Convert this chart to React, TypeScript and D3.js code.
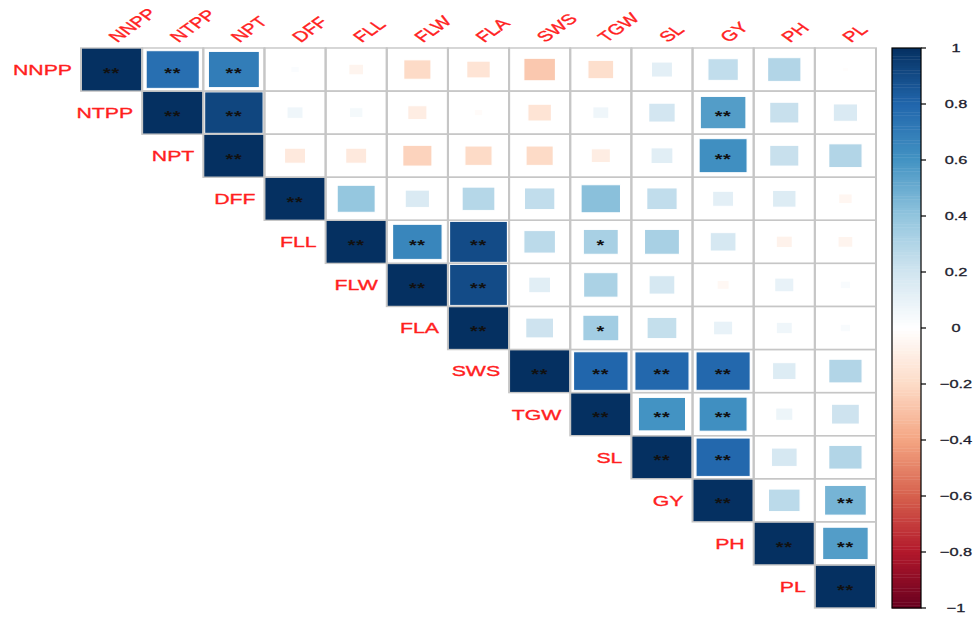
import React from "react";
import * as d3 from "d3";

const variables = ["NNPP", "NTPP", "NPT", "DFF", "FLL", "FLW", "FLA", "SWS", "TGW", "SL", "GY", "PH", "PL"];

// upper-triangle correlations, each row starts at the diagonal
const rowNNPP = [1, 0.76, 0.7, 0.02, -0.06, -0.2, -0.15, -0.27, -0.18, 0.12, 0.25, 0.3, -0.01];
const rowNTPP = [1, 0.92, 0.07, 0.05, -0.1, -0.02, -0.15, 0.07, 0.19, 0.56, 0.23, 0.16];
const rowNPT = [1, -0.12, -0.12, -0.23, -0.2, -0.2, -0.1, 0.13, 0.62, 0.23, 0.3];
const rowDFF = [1, 0.39, 0.16, 0.29, 0.25, 0.42, 0.25, 0.12, 0.15, -0.05];
const rowFLL = [1, 0.66, 0.9, 0.27, 0.33, 0.33, 0.18, -0.07, -0.06];
const rowFLW = [1, 0.9, 0.13, 0.32, 0.18, -0.04, 0.1, 0.03];
const rowFLA = [1, 0.21, 0.35, 0.24, 0.1, 0.07, 0.03];
const rowSWS = [1, 0.8, 0.79, 0.79, 0.15, 0.3];
const rowTGW = [1, 0.6, 0.62, 0.08, 0.21];
const rowSL = [1, 0.79, 0.18, 0.3];
const rowGY = [1, 0.27, 0.47];
const rowPH = [1, 0.56];
const rowPL = [1];
const corrRows = [rowNNPP, rowNTPP, rowNPT, rowDFF, rowFLL, rowFLW, rowFLA, rowSWS, rowTGW, rowSL, rowGY, rowPH, rowPL];

// significance marks off the diagonal (diagonal is always "**")
const sigPairs: [string, string, string][] = [
  ["NNPP", "NTPP", "**"], ["NNPP", "NPT", "**"], ["NTPP", "NPT", "**"],
  ["NTPP", "GY", "**"], ["NPT", "GY", "**"],
  ["FLL", "FLW", "**"], ["FLL", "FLA", "**"], ["FLW", "FLA", "**"],
  ["FLL", "TGW", "*"], ["FLA", "TGW", "*"],
  ["SWS", "TGW", "**"], ["SWS", "SL", "**"], ["SWS", "GY", "**"],
  ["TGW", "SL", "**"], ["TGW", "GY", "**"], ["SL", "GY", "**"],
  ["GY", "PL", "**"], ["PH", "PL", "**"],
];

const legendTicks = [1, 0.8, 0.6, 0.4, 0.2, 0, -0.2, -0.4, -0.6, -0.8, -1];
const rdbu = ["#67001F", "#B2182B", "#D6604D", "#F4A582", "#FDDBC7", "#FFFFFF", "#D1E5F0", "#92C5DE", "#4393C3", "#2166AC", "#053061"];

const FONT = "'Liberation Sans', Arial, Helvetica, sans-serif";

export default function App() {
  const W = 974, H = 618;
  const X0 = 81, X1 = 876, Y0 = 48, Y1 = 608;
  const sx = (X1 - X0) / (Y1 - Y0);

  const x = d3.scaleBand().domain(variables).range([X0 / sx, X1 / sx]);
  const y = d3.scaleBand().domain(variables).range([Y0, Y1]);
  const bw = x.bandwidth(), bh = y.bandwidth();

  const color = d3.scaleLinear<string>()
    .domain(d3.range(11).map((i) => -1 + i * 0.2))
    .range(rdbu)
    .interpolate(d3.interpolateRgb);

  const sigMap = new Map<string, string>();
  sigPairs.forEach(([a, b, s]) => sigMap.set(a + "|" + b, s));

  const cells: { row: string; col: string; r: number; sig: string }[] = [];
  corrRows.forEach((vals, i) => {
    vals.forEach((r, k) => {
      const j = i + k;
      const row = variables[i], col = variables[j];
      const sig = i === j ? "**" : sigMap.get(row + "|" + col) || "";
      cells.push({ row, col, r, sig });
    });
  });

  const legendY = d3.scaleLinear().domain([-1, 1]).range([Y1, Y0]);
  const nSlices = 200;
  const slices = d3.range(nSlices).map((i) => -1 + (i + 0.5) * (2 / nSlices));
  const LX0 = 892, LX1 = 921;
  const red = "#ff1f1f";

  return (
    <svg width={W} height={H} style={{ position: "absolute", left: 0, top: 0, background: "#fff" }}>
      <g transform={`scale(${sx},1)`}>
        {cells.map((c) => (
          <rect key={"bg" + c.row + c.col} x={x(c.col)} y={y(c.row)} width={bw} height={bh} fill="#fff" />
        ))}
        {cells.map((c) => {
          const s = Math.sqrt(Math.abs(c.r));
          const w = bw * s, h = bh * s;
          const cx = (x(c.col) as number) + bw / 2;
          const cy = (y(c.row) as number) + bh / 2;
          return (
            <rect key={"sq" + c.row + c.col} x={cx - w / 2} y={cy - h / 2} width={w} height={h}
              fill={color(c.r)} stroke={c.row === c.col ? "none" : "#ffffff"} strokeWidth={0.9} />
          );
        })}
        {cells.map((c) => (
          <rect key={"gr" + c.row + c.col} x={x(c.col)} y={y(c.row)} width={bw} height={bh}
            fill="none" stroke="#c6c6c6" strokeWidth={1.4} />
        ))}
        {cells.filter((c) => c.sig).map((c) => {
          const cx = (x(c.col) as number) + bw / 2;
          const cy = (y(c.row) as number) + bh / 2;
          return (
            <text key={"st" + c.row + c.col} x={cx} y={cy + 8.2} textAnchor="middle"
              fontFamily={FONT} fontSize={14} fontWeight="bold" fill="#111" letterSpacing={0.5}>{c.sig}</text>
          );
        })}
        {variables.map((v) => (
          <text key={"rl" + v} x={(x(v) as number) - 6.3} y={(y(v) as number) + bh / 2} dy="0.36em"
            textAnchor="end" fontFamily={FONT} fontSize={15} fill={red} stroke={red} strokeWidth={0.35}>{v}</text>
        ))}
        {variables.map((v) => {
          const cx = (x(v) as number) + bw / 2 + 4;
          return (
            <text key={"cl" + v} transform={`translate(${cx},${Y0 - 5}) rotate(-45)`}
              textAnchor="start" fontFamily={FONT} fontSize={14.5} fill={red} stroke={red} strokeWidth={0.35}>{v}</text>
          );
        })}
      </g>
      <g>
        {slices.map((v, i) => (
          <rect key={"ls" + i} x={LX0} y={legendY(v + 1 / nSlices)} width={LX1 - LX0}
            height={Math.abs(legendY(0) - legendY(2 / nSlices)) + 0.4} fill={color(v)} />
        ))}
        <rect x={LX0} y={Y0} width={LX1 - LX0} height={Y1 - Y0} fill="none" stroke="#000" strokeWidth={1.2} />
        {legendTicks.map((t) => (
          <line key={"lt" + t} x1={LX1} x2={LX1 + 5} y1={legendY(t)} y2={legendY(t)} stroke="#000" strokeWidth={1.2} />
        ))}
        {legendTicks.map((t) => (
          <text key={"ll" + t} transform={`translate(956,${legendY(t) + 4}) scale(${sx},1)`}
            textAnchor="middle" fontFamily={FONT} fontSize={11.5} fill="#1c1c2c" stroke="#1c1c2c" strokeWidth={0.3}>
            {t < 0 ? "\u2212" + Math.abs(t) : String(t)}
          </text>
        ))}
      </g>
    </svg>
  );
}
